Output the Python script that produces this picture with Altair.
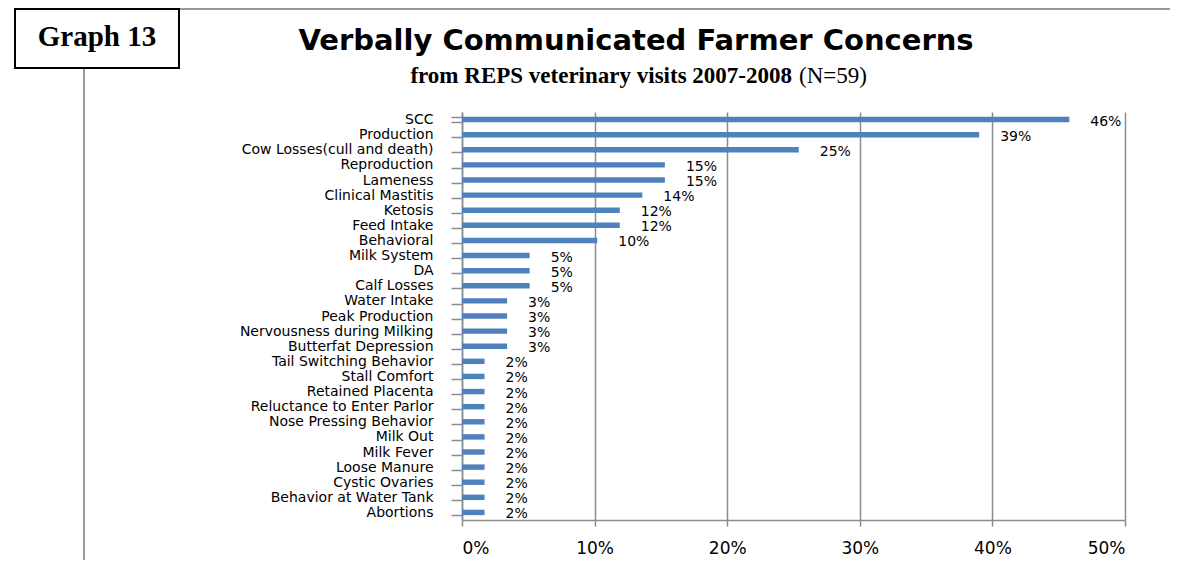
import altair as alt
import pandas as pd

categories = ["SCC", "Production", "Cow Losses(cull and death)", "Reproduction",
              "Lameness", "Clinical Mastitis", "Ketosis", "Feed Intake", "Behavioral",
              "Milk System", "DA", "Calf Losses", "Water Intake", "Peak Production",
              "Nervousness during Milking", "Butterfat Depression",
              "Tail Switching Behavior", "Stall Comfort", "Retained Placenta",
              "Reluctance to Enter Parlor", "Nose Pressing Behavior", "Milk Out",
              "Milk Fever", "Loose Manure", "Cystic Ovaries", "Behavior at Water Tank",
              "Abortions"]
shares = [0.458, 0.390, 0.254, 0.153, 0.153, 0.136, 0.119, 0.119, 0.102,
          0.051, 0.051, 0.051, 0.034, 0.034, 0.034, 0.034,
          0.017, 0.017, 0.017, 0.017, 0.017, 0.017, 0.017, 0.017, 0.017, 0.017, 0.017]
x_ticks = [0, 0.1, 0.2, 0.3, 0.4, 0.5]

title_text = "Verbally Communicated Farmer Concerns"
subtitle_bold = "from REPS veterinary visits 2007-2008"
subtitle_plain = "(N=59)"
badge_text = "Graph 13"

df = pd.DataFrame({"concern": categories, "share": shares})

BLUE = "#4F81BD"
GRID = "#8C8C8C"
W, H = 663, 408
FS = 14

y_enc = alt.Y("concern:N", sort=categories, title=None,
              scale=alt.Scale(paddingInner=0.64),
              axis=alt.Axis(tickBand="extent", tickSize=11, labelPadding=18,
                            labelFont="DejaVu Sans", labelFontSize=FS,
                            labelColor="black", domainColor=GRID, tickColor=GRID,
                            domainWidth=1.5, tickWidth=1.5, grid=False,
                            labelLimit=0, labelOverlap=False))
x_enc = alt.X("share:Q", title=None,
              scale=alt.Scale(domain=[0, 0.5], nice=False),
              axis=alt.Axis(values=x_ticks, format=".0%", grid=True, gridColor=GRID,
                            gridWidth=1.5, domainColor=GRID, domainWidth=1.5,
                            tickColor=GRID, tickWidth=1.5, tickSize=6, labelPadding=14,
                            labelFont="DejaVu Sans", labelFontSize=17,
                            labelColor="black"))

base = alt.Chart(df).encode(x=x_enc, y=y_enc)
bars = base.mark_bar(color=BLUE)
labels = base.mark_text(align="left", baseline="middle", dx=21, dy=2,
                        font="DejaVu Sans", fontSize=14,
                        color="black").encode(text=alt.Text("share:Q", format=".0%"))

one = pd.DataFrame({"k": [0]})

top_line = alt.Chart(one).mark_rule(color="#9A9A9A", strokeWidth=2).encode(
    x=alt.value(-379), x2=alt.value(708), y=alt.value(-103))
left_line = alt.Chart(one).mark_rule(color="#9A9A9A", strokeWidth=2).encode(
    x=alt.value(-378), y=alt.value(-44), y2=alt.value(450))
badge_box = alt.Chart(one).mark_rect(fill="white", stroke="black", strokeWidth=2).encode(
    x=alt.value(-447), x2=alt.value(-283), y=alt.value(-103), y2=alt.value(-44))
badge = alt.Chart(one).mark_text(align="center", baseline="alphabetic",
                                 font="Liberation Serif", fontWeight="bold",
                                 fontSize=29, color="black").encode(
    x=alt.value(-365), y=alt.value(-66), text=alt.value(badge_text))
title = alt.Chart(one).mark_text(align="center", baseline="alphabetic",
                                 font="DejaVu Sans", fontWeight="bold",
                                 fontSize=29, color="black").encode(
    x=alt.value(174), y=alt.value(-62), text=alt.value(title_text))
sub1 = alt.Chart(one).mark_text(align="right", baseline="alphabetic",
                                font="Liberation Serif", fontWeight="bold",
                                fontSize=23, color="black").encode(
    x=alt.value(330), y=alt.value(-29), text=alt.value(subtitle_bold))
sub2 = alt.Chart(one).mark_text(align="left", baseline="alphabetic",
                                font="Liberation Serif", fontWeight="normal",
                                fontSize=23, color="black").encode(
    x=alt.value(337), y=alt.value(-29), text=alt.value(subtitle_plain))

chart = alt.layer(bars, labels, top_line, left_line, badge_box, badge, title, sub1, sub2).properties(
    width=W, height=H,
    autosize=alt.AutoSizeParams(type="none"),
    padding={"left": 454, "top": 104, "right": 45, "bottom": 40},
    background="white",
).configure_view(stroke=None)

chart.save("out.html", embed_options={"renderer": "svg", "actions": False})
